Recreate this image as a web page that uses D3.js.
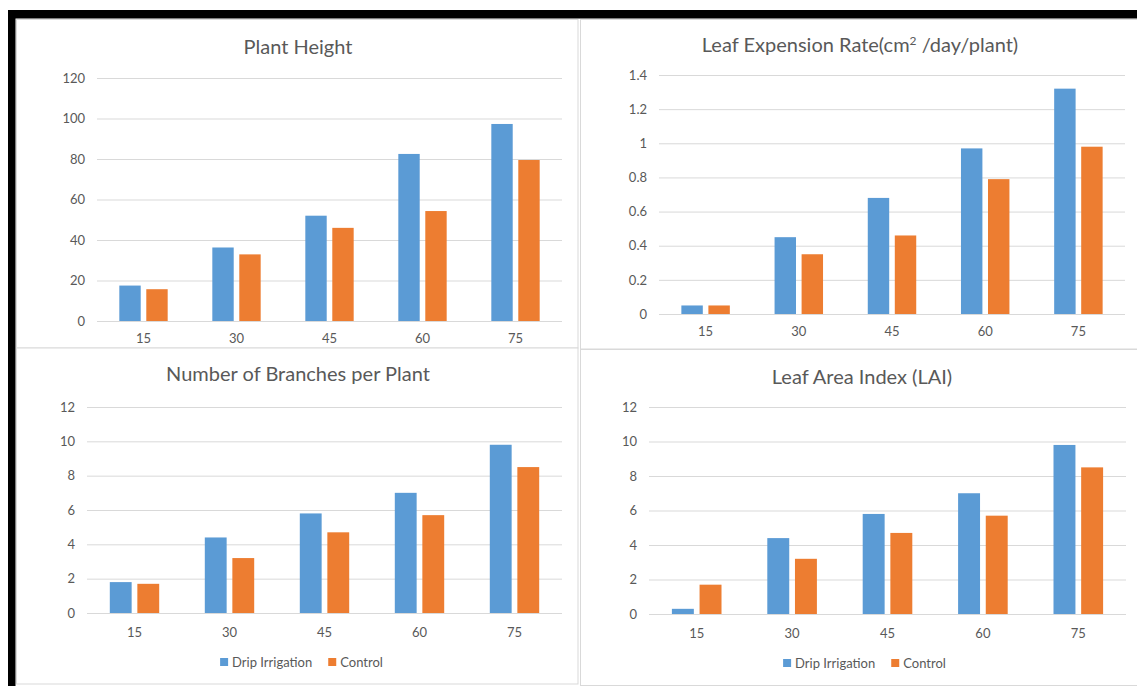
<!DOCTYPE html>
<html>
<head>
<meta charset="utf-8">
<script src="https://cdn.jsdelivr.net/npm/d3@7"></script>
<style>
  html, body { margin: 0; padding: 0; background: #fff; }
  svg { display: block; }
  text { font-family: Lato, "Open Sans", sans-serif; fill: #595959; }
</style>
</head>
<body>
<svg id="chart" width="1137" height="686"></svg>
<script>
// Days after sowing
const days = ["15", "30", "45", "60", "75"];
const seriesNames = ["Drip Irrigation", "Control"];
const seriesColors = ["#5b9bd5", "#ed7d31"];

// Plant height
const heightDrip = [17.5, 36.3, 52, 82.5, 97.3];
const heightControl = [15.7, 32.9, 46, 54.3, 79.5];

// Leaf expansion rate (cm² /day/plant)
const leafRateDrip = [0.05, 0.45, 0.68, 0.97, 1.32];
const leafRateControl = [0.05, 0.35, 0.46, 0.79, 0.98];

// Number of branches per plant
const branchesDrip = [1.8, 4.4, 5.8, 7.0, 9.8];
const branchesControl = [1.7, 3.2, 4.7, 5.7, 8.5];

// Leaf area index
const laiDrip = [0.3, 4.4, 5.8, 7.0, 9.8];
const laiControl = [1.7, 3.2, 4.7, 5.7, 8.5];

// Axis ticks
const heightTicks = [0, 20, 40, 60, 80, 100, 120];
const leafRateTicks = [0, 0.2, 0.4, 0.6, 0.8, 1, 1.2, 1.4];
const countTicks = [0, 2, 4, 6, 8, 10, 12];

const svg = d3.select("#chart");

// Black frame along the top and left edges
svg.append("rect").attr("x", 8).attr("y", 10).attr("width", 1129).attr("height", 8.5).attr("fill", "#000");
svg.append("rect").attr("x", 8).attr("y", 10).attr("width", 7.5).attr("height", 676).attr("fill", "#000");

// Panel layout
const panels = [
  { title: "Plant Height", drip: heightDrip, control: heightControl, ticks: heightTicks, max: 120,
    box: [16.5, 19.5, 561.5, 328.5], x0: 97, x1: 562, y0: 321, y1: 78, titleX: 298, titleY: 47, labelY: 339, legendX: null, legendY: null },
  { title: "Leaf Expension Rate(cm", sup: "2", titleRest: " /day/plant)", drip: leafRateDrip, control: leafRateControl, ticks: leafRateTicks, max: 1.4,
    box: [580.5, 19.5, 560, 329.5], x0: 659, x1: 1125, y0: 314, y1: 75, titleX: 860, titleY: 45, labelY: 332, legendX: null, legendY: null },
  { title: "Number of Branches per Plant", drip: branchesDrip, control: branchesControl, ticks: countTicks, max: 12,
    box: [16.5, 348, 561.5, 336], x0: 87, x1: 562, y0: 613, y1: 407, titleX: 298, titleY: 374, labelY: 633, legendX: 301.5, legendY: 662 },
  { title: "Leaf Area Index (LAI)", drip: laiDrip, control: laiControl, ticks: countTicks, max: 12,
    box: [580.5, 349.5, 560, 336], x0: 649, x1: 1126, y0: 614, y1: 407, titleX: 862, titleY: 377, labelY: 634, legendX: 864.5, legendY: 663 }
];

panels.forEach(p => {
  const g = svg.append("g");

  g.append("rect")
    .attr("x", p.box[0]).attr("y", p.box[1])
    .attr("width", p.box[2]).attr("height", p.box[3])
    .attr("fill", "#fff").attr("stroke", "#d9d9d9").attr("stroke-width", 1);

  const x = d3.scaleBand().domain(days).range([p.x0, p.x1]).paddingInner(0).paddingOuter(0);
  const y = d3.scaleLinear().domain([0, p.max]).range([p.y0, p.y1]);

  // Bars sit inside each category: 23% width each, 6% apart
  const bw = x.bandwidth() * 0.23;
  const gap = x.bandwidth() * 0.06;
  const sub = d3.scaleOrdinal().domain(seriesNames)
    .range([x.bandwidth() / 2 - gap / 2 - bw, x.bandwidth() / 2 + gap / 2]);

  // Gridlines and value labels
  const yAxis = d3.axisLeft(y).tickValues(p.ticks).tickSize(-(p.x1 - p.x0)).tickPadding(12)
    .tickFormat(d3.format("~g"));
  const ya = g.append("g").attr("transform", `translate(${p.x0},0)`).call(yAxis);
  ya.select(".domain").remove();
  ya.selectAll(".tick line").attr("stroke", "#d9d9d9").attr("stroke-width", 1);
  ya.selectAll(".tick text").attr("font-size", 13).attr("fill", "#595959")
    .style("font-family", "Lato, 'Open Sans', sans-serif");

  // Bars
  const rows = days.map((d, i) => ({ day: d, values: [p.drip[i], p.control[i]] }));
  const grp = g.selectAll(".cat").data(rows).join("g")
    .attr("transform", d => `translate(${x(d.day)},0)`);
  grp.selectAll("rect").data(d => d.values.map((v, k) => ({ v, k }))).join("rect")
    .attr("x", d => sub(seriesNames[d.k]))
    .attr("y", d => y(d.v))
    .attr("width", bw)
    .attr("height", d => y(0) - y(d.v))
    .attr("fill", d => seriesColors[d.k]);

  // Category labels
  const xAxis = d3.axisBottom(x).tickSize(0).tickPadding(0);
  const xa = g.append("g").attr("transform", `translate(0,${p.labelY - 5})`).call(xAxis);
  xa.select(".domain").remove();
  xa.selectAll(".tick text").attr("font-size", 13).attr("fill", "#595959").attr("dy", "0.71em")
    .attr("y", 0)
    .style("font-family", "Lato, 'Open Sans', sans-serif");

  // Title
  const t = g.append("text")
    .attr("x", p.titleX).attr("y", p.titleY + 7)
    .attr("text-anchor", "middle").attr("font-size", 20).attr("fill", "#595959");
  t.append("tspan").text(p.title);
  if (p.sup) {
    t.append("tspan").text(p.sup).attr("font-size", 12).attr("dy", -7);
    t.append("tspan").text(p.titleRest).attr("dy", 7);
  }

  // Legend
  if (p.legendY !== null) {
    const lg = g.append("g");
    const items = lg.selectAll("g").data(seriesNames).join("g");
    items.append("rect").attr("width", 8).attr("height", 8).attr("y", -4)
      .attr("fill", (d, i) => seriesColors[i]);
    items.append("text").attr("x", 12).attr("dy", "0.35em").attr("font-size", 13)
      .text(d => d);
    // place items side by side and center the group
    let off = 0;
    items.each(function () {
      const w = this.getBBox().width;
      d3.select(this).attr("transform", `translate(${off},0)`);
      off += w + 16;
    });
    const total = off - 16;
    lg.attr("transform", `translate(${p.legendX - total / 2},${p.legendY})`);
  }
});
</script>
</body>
</html>
